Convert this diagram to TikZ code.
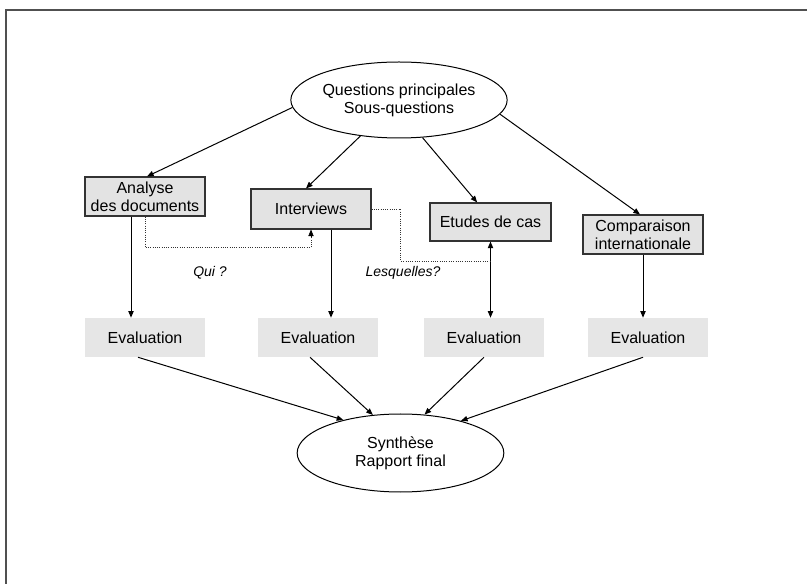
\documentclass[tikz,border=0pt]{standalone}
\usepackage{fontspec}
\setmainfont{Liberation Sans}
\usetikzlibrary{arrows.meta,shapes.geometric,calc}
\definecolor{boxfill}{HTML}{E3E3E3}
\definecolor{evalfill}{HTML}{E6E6E6}
\definecolor{boxline}{HTML}{333333}
\definecolor{frameline}{HTML}{505050}
\begin{document}
\begin{tikzpicture}[x=0.75pt,y=-0.75pt,
  every node/.style={font=\fontsize{12}{13.5}\selectfont, align=center, inner sep=0pt},
  ovalbox/.style={ellipse, draw=black, line width=0.75pt},
  taskbox/.style={rectangle, draw=boxline, fill=boxfill, line width=0.8pt, minimum width=90pt, minimum height=29.25pt},
  evalbox/.style={rectangle, fill=evalfill, minimum width=90pt, minimum height=29.25pt},
  arr/.style={-{Triangle[length=5pt,width=4pt]}, line width=0.75pt, black},
  dblarr/.style={{Triangle[length=5pt,width=4pt]}-{Triangle[length=5pt,width=4pt]}, line width=0.75pt, black},
  dotline/.style={densely dotted, line width=0.7pt, black!80},
  qlabel/.style={font=\fontsize{10.5}{12}\selectfont\itshape}
]
\useasboundingbox (0,0) rectangle (807,584);
% frame
\draw[frameline, line width=1.5pt] (6,584) -- (6,10) -- (807,10);

% nodes
\node[ovalbox, minimum width=153pt, minimum height=57pt] (q) at (399,100) {Questions principales\\Sous-questions};
\node[taskbox] (a) at (145,196.5) {Analyse\\des documents};
\node[taskbox, minimum height=30pt] (i) at (311,209) {Interviews};
\node[taskbox, minimum width=90.75pt, minimum height=28.5pt] (e) at (490.5,222) {Etudes de cas};
\node[taskbox] (c) at (643,234.5) {Comparaison\\internationale};

\node[evalbox] (v1) at (145,337.5) {Evaluation};
\node[evalbox] (v2) at (318,337.5) {Evaluation};
\node[evalbox] (v3) at (484,337.5) {Evaluation};
\node[evalbox] (v4) at (648,337.5) {Evaluation};

\node[ovalbox, minimum width=155pt, minimum height=58.5pt] (s) at (400.5,453) {Synthèse\\Rapport final};

\node[qlabel] (lqui) at (210,273) {Qui ?};
\node[qlabel] (lles) at (403,273) {Lesquelles?};

% top arrows
\draw[arr] (q.184) -- ([xshift=1.5pt]a.north);
\draw[arr] (q.223) -- ([xshift=-3.75pt]i.north);
\draw[arr] (q.302) -- ([xshift=-10pt]e.north);
\draw[arr] (q.352) -- ([xshift=-2.25pt]c.north);

% vertical arrows
\draw[arr] ([xshift=-10.5pt]a.south) -- ([xshift=-10.5pt]a.south |- v1.north);
\draw[arr] ([xshift=15pt]i.south) -- ([xshift=15pt]i.south |- v2.north);
\draw[dblarr] (e.south) -- (e.south |- v3.north);
\draw[arr] (c.south) -- (c.south |- v4.north);

% dotted connectors
\coordinate (dq) at (490.5,261);
\draw[dotline] (a.south) -- ++(0,31) -| (i.south);
\draw[-{Triangle[length=5pt,width=4pt]}, black] ([yshift=-5pt]i.south) -- (i.south);
\draw[dotline] (i.east) -- ++(29,0) |- (dq);

% bottom arrows
\draw[arr] ([xshift=-5.25pt]v1.south) -- (s.150.7);
\draw[arr] ([xshift=-6pt]v2.south) -- (s.126.9);
\draw[arr] (v3.south) -- (s.58);
\draw[arr] ([xshift=-3.75pt]v4.south) -- (s.28);
\end{tikzpicture}
\end{document}
